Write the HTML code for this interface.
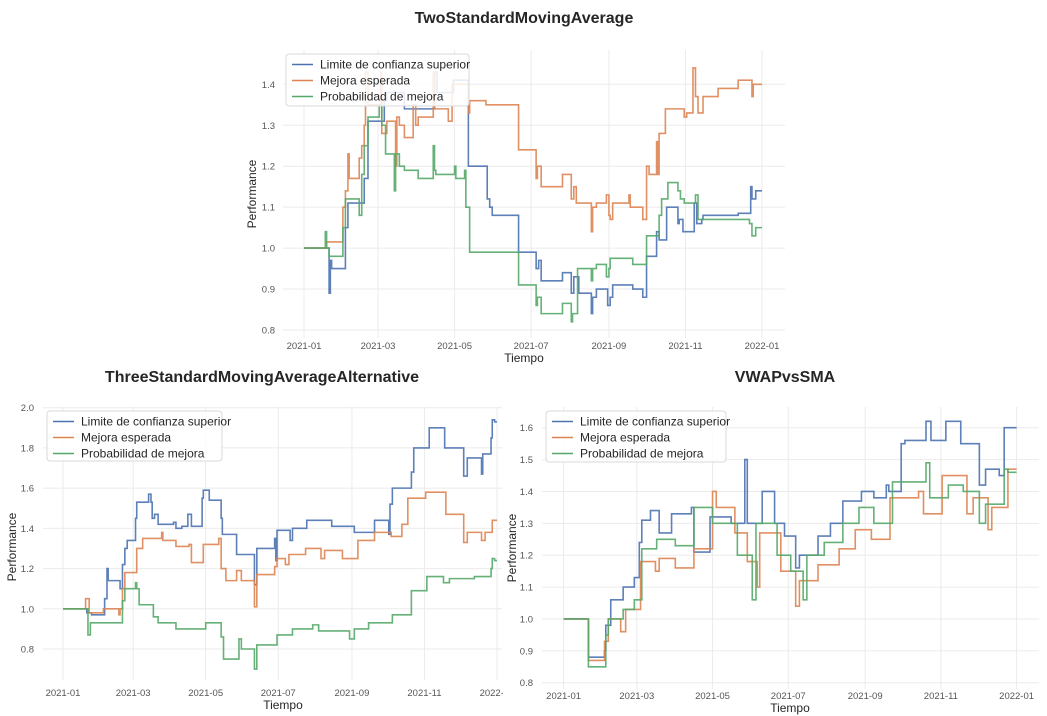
<!DOCTYPE html>
<html><head><meta charset="utf-8">
<style>
html,body{margin:0;padding:0;background:#fff;}
svg{display:block;font-family:"Liberation Sans",Arial,sans-serif;}
</style></head>
<body>
<svg id="chart" width="1047" height="716" viewBox="0 0 1047 716"></svg>
<script>
// ---------- data (day of year 2021, value) ----------
const seriesNames = ["Limite de confianza superior","Mejora esperada","Probabilidad de mejora"];
const xTickLabels = ["2021-01","2021-03","2021-05","2021-07","2021-09","2021-11","2022-01"];
const xTickDays = [0,59,120,181,243,304,365];

const topYTicks = [0.8,0.9,1.0,1.1,1.2,1.3,1.4];
const topBlueDays = [0,20,21,22,31,33,35,37,46,48,51,64,66,80,95,104,106,119,131,146,148,150,171,185,187,189,206,213,215,219,229,230,233,242,244,246,249,262,270,273,281,283,289,298,299,302,311,313,317,318,346,356,357,360,365];
const topBlueVals = [1.0,0.89,0.97,0.95,0.95,1.05,1.11,1.11,1.11,1.17,1.31,1.36,1.38,1.34,1.34,1.43,1.38,1.41,1.2,1.12,1.1,1.08,0.99,0.95,0.97,0.92,0.94,0.89,0.93,0.89,0.84,0.88,0.9,0.86,0.88,0.91,0.91,0.9,0.88,0.98,1.04,1.02,1.1,1.06,1.07,1.04,1.11,1.06,1.07,1.08,1.085,1.15,1.12,1.14,1.14];
const topOrangeDays = [0,18,31,33,35,36,38,44,46,48,49,51,61,62,64,66,73,74,76,80,87,89,91,94,103,104,105,115,118,120,131,132,145,147,171,185,186,189,206,213,215,217,221,229,230,233,241,243,244,246,249,259,260,262,270,273,275,281,282,283,288,303,305,306,310,312,314,318,330,331,346,347,357,358,360,365];
const topOrangeVals = [1.0,1.015,1.1,1.14,1.23,1.17,1.17,1.22,1.25,1.3,1.43,1.35,1.43,1.28,1.28,1.31,1.2,1.32,1.3,1.27,1.35,1.3,1.32,1.32,1.43,1.34,1.34,1.31,1.4,1.4,1.33,1.36,1.35,1.35,1.24,1.17,1.2,1.15,1.18,1.12,1.15,1.11,1.11,1.04,1.1,1.11,1.13,1.08,1.07,1.11,1.11,1.13,1.1,1.1,1.07,1.2,1.18,1.26,1.18,1.28,1.34,1.32,1.33,1.33,1.44,1.37,1.33,1.37,1.39,1.39,1.41,1.41,1.37,1.4,1.4,1.4];
const topGreenDays = [0,17,18,20,31,33,38,44,46,48,51,60,62,65,72,73,76,80,91,94,103,104,105,120,121,122,128,129,131,132,171,185,186,189,206,213,214,218,229,230,233,241,243,244,249,262,273,275,283,285,290,298,300,303,312,314,317,355,357,360,365];
const topGreenVals = [1.0,1.04,1.0,0.98,1.05,1.12,1.12,1.08,1.18,1.25,1.32,1.35,1.3,1.23,1.14,1.23,1.2,1.19,1.17,1.17,1.25,1.19,1.18,1.2,1.17,1.17,1.19,1.1,1.1,0.99,0.91,0.86,0.88,0.84,0.865,0.82,0.84,0.95,0.92,0.95,0.96,0.93,0.95,0.975,0.975,0.96,1.03,1.03,1.08,1.12,1.16,1.14,1.12,1.11,1.13,1.07,1.07,1.06,1.03,1.05,1.05];

const blYTicks = [0.8,1.0,1.2,1.4,1.6,1.8,2.0];
const blBlueDays = [0,17,20,24,35,37,38,47,48,50,52,54,61,62,72,74,75,77,80,93,95,100,105,108,117,118,123,133,134,146,161,163,178,179,180,191,193,205,226,245,262,274,275,277,293,295,308,321,337,340,352,353,360,361,363,365];
const blBlueVals = [1.0,1.0,0.98,0.97,1.05,1.2,1.14,1.14,1.1,1.22,1.3,1.34,1.45,1.53,1.57,1.53,1.45,1.47,1.42,1.43,1.4,1.41,1.47,1.41,1.55,1.59,1.54,1.45,1.37,1.27,1.12,1.3,1.35,1.24,1.39,1.34,1.4,1.44,1.41,1.38,1.44,1.37,1.52,1.6,1.68,1.8,1.9,1.8,1.66,1.75,1.67,1.77,1.85,1.94,1.93,1.93];
const blOrangeDays = [0,17,19,22,34,47,48,50,52,62,67,83,84,95,106,108,118,131,133,137,146,150,161,163,178,180,187,190,204,217,220,235,248,262,276,285,290,305,322,337,340,352,355,361,365];
const blOrangeVals = [1.0,1.0,1.05,0.98,1.0,0.97,1.0,1.1,1.18,1.3,1.35,1.38,1.34,1.31,1.32,1.23,1.32,1.35,1.2,1.14,1.19,1.14,1.01,1.17,1.21,1.25,1.22,1.27,1.3,1.25,1.29,1.25,1.34,1.38,1.36,1.42,1.55,1.58,1.47,1.33,1.38,1.34,1.38,1.44,1.44];
const blGreenDays = [0,17,21,23,48,50,52,61,62,64,76,80,95,120,133,135,148,150,161,163,180,193,210,215,241,245,257,277,293,306,320,325,346,360,361,363,365];
const blGreenVals = [1.0,1.0,0.87,0.93,0.93,1.04,1.1,1.13,1.1,1.02,0.96,0.93,0.9,0.93,0.86,0.75,0.85,0.8,0.7,0.82,0.87,0.9,0.92,0.89,0.85,0.9,0.93,0.97,1.09,1.16,1.13,1.15,1.16,1.2,1.25,1.24,1.24];

const brYTicks = [0.8,0.9,1.0,1.1,1.2,1.3,1.4,1.5,1.6];
const brBlueDays = [0,17,20,33,34,38,48,57,61,63,70,77,87,103,105,118,135,146,148,160,170,178,187,190,205,215,225,240,250,260,262,272,275,292,296,308,320,335,340,351,355,365];
const brBlueVals = [1.0,1.0,0.88,0.9,0.98,1.06,1.1,1.13,1.24,1.31,1.34,1.27,1.33,1.35,1.21,1.32,1.3,1.5,1.3,1.4,1.3,1.26,1.16,1.2,1.26,1.3,1.37,1.4,1.38,1.42,1.4,1.55,1.56,1.62,1.56,1.62,1.55,1.42,1.47,1.45,1.6,1.6];
const brOrangeDays = [0,17,20,33,36,46,50,62,74,77,90,105,120,123,138,148,156,158,175,187,190,205,222,235,248,263,286,290,305,325,330,342,345,358,365];
const brOrangeVals = [1.0,1.0,0.87,0.93,1.0,0.96,1.03,1.18,1.15,1.19,1.16,1.22,1.4,1.35,1.27,1.18,1.1,1.27,1.15,1.04,1.12,1.17,1.22,1.28,1.25,1.38,1.4,1.33,1.45,1.33,1.38,1.28,1.35,1.47,1.47];
const brGreenDays = [0,17,20,34,36,48,57,63,75,90,105,120,140,152,155,172,183,193,196,210,225,238,250,265,292,295,310,322,335,340,355,358,365];
const brGreenVals = [1.0,1.0,0.85,0.95,1.0,1.03,1.06,1.22,1.25,1.23,1.35,1.3,1.2,1.06,1.3,1.2,1.15,1.06,1.2,1.24,1.3,1.35,1.3,1.43,1.49,1.38,1.42,1.4,1.3,1.36,1.47,1.46,1.46];

// ---------- rendering ----------
const NS = "http://www.w3.org/2000/svg";
const svg = document.getElementById("chart");
const colors = ["#4c72b0","#dd8452","#55a868"];
function mk(tag, attrs, parent){
  const e = document.createElementNS(NS, tag);
  for (const k in attrs) e.setAttribute(k, attrs[k]);
  (parent||svg).appendChild(e);
  return e;
}
function panel(cfg){
  const g = mk("g", {});
  
  
  const xs = d => cfg.d0 + (d/365)*(cfg.d1 - cfg.d0);
  const ys = v => cfg.p0 + (v - cfg.v0)/(cfg.v1 - cfg.v0)*(cfg.p1 - cfg.p0);
  // grid
  cfg.yTicks.forEach(v => {
    const l = mk("line", {x1:cfg.L, x2:cfg.R, y1:ys(v), y2:ys(v), stroke:"#ebebeb", "stroke-width":1}, g);
    
    
    const t = mk("text", {x:cfg.ytx, y:ys(v)+3.5, "text-anchor":"end", "font-size":9.5, fill:"#555"}, g);
    
    
    t.textContent = v.toFixed(1);
  });
  xTickDays.forEach((d,i) => {
    const l = mk("line", {x1:xs(d), x2:xs(d), y1:cfg.T, y2:cfg.B, stroke:"#ebebeb", "stroke-width":1}, g);
    
    
    const t = mk("text", {x:xs(d), y:cfg.xty, "text-anchor":"middle", "font-size":9.5, fill:"#555"}, g);
    
    
    t.textContent = xTickLabels[i];
  });
  // series
  cfg.series.forEach((s,i) => {
    let dstr = "";
    s[0].forEach((d,j) => {
      const x = xs(d), y = ys(s[1][j]);
      if (j === 0) dstr += "M"+x+","+y;
      else dstr += "H"+x+"V"+y;
    });
    const p = mk("path", {d:dstr, fill:"none", stroke:colors[i], "stroke-width":1.6, "stroke-opacity":0.9, "stroke-linejoin":"miter"}, g);
    
    
  });
  // labels
  const tt = mk("text", {x:cfg.tx, y:cfg.ty, "text-anchor":"middle", "font-size":16, "font-weight":"bold", fill:"#262626"}, g);
  
  
  tt.textContent = cfg.title;
  const xl = mk("text", {x:cfg.xlx, y:cfg.xly, "text-anchor":"middle", "font-size":12, fill:"#262626"}, g);
  
  
  xl.textContent = "Tiempo";
  const yl = mk("text", {x:0, y:0, transform:"translate("+cfg.ylx+","+cfg.yly+") rotate(-90)", "text-anchor":"middle", "font-size":12, fill:"#262626"}, g);
  
  
  yl.textContent = "Performance";
  // legend
  const lg = mk("g", {}, g);
  
  
  mk("rect", {x:cfg.lx, y:cfg.ly, width:cfg.lw, height:cfg.lh, rx:3, fill:"#fff", "fill-opacity":0.85, stroke:"#d9d9d9"}, lg);
  seriesNames.forEach((n,i) => {
    const yy = cfg.ly + 10.5 + i*16;
    const ln = mk("line", {x1:cfg.lx+6, x2:cfg.lx+27, y1:yy, y2:yy, stroke:colors[i], "stroke-width":1.6}, lg);
    
    
    const t = mk("text", {x:cfg.lx+34, y:yy+4, "font-size":12, fill:"#262626"}, lg);
    
    
    t.textContent = n;
  });
}

panel({name:"two-standard-moving-average-chart", title:"TwoStandardMovingAverage", tx:524, ty:23,
  d0:304, d1:762, v0:0.8, p0:330, v1:1.4, p1:84.3, L:283, R:785, T:50, B:338,
  yTicks:topYTicks, ytx:275, xty:349, xlx:524, xly:362, ylx:256, yly:194,
  lx:286, ly:54, lw:183, lh:52,
  series:[[topBlueDays,topBlueVals],[topOrangeDays,topOrangeVals],[topGreenDays,topGreenVals]]});

panel({name:"three-standard-moving-average-alternative-chart", title:"ThreeStandardMovingAverageAlternative", tx:262, ty:382,
  d0:63, d1:497, v0:0.8, p0:649, v1:2.0, p1:407.7, L:43, R:502, T:407, B:680,
  yTicks:blYTicks, ytx:34, xty:696, xlx:283, xly:709, ylx:16, yly:547,
  lx:47, ly:411, lw:175, lh:50,
  series:[[blBlueDays,blBlueVals],[blOrangeDays,blOrangeVals],[blGreenDays,blGreenVals]]});

const cover = mk("rect", {x:503, y:685, width:12, height:20, fill:"#fff"});



panel({name:"vwap-vs-sma-chart", title:"VWAPvsSMA", tx:785, ty:382,
  d0:563.6, d1:1016.6, v0:0.8, p0:682.7, v1:1.6, p1:427.7, L:542, R:1039, T:407, B:689,
  yTicks:brYTicks, ytx:533, xty:699, xlx:790, xly:712, ylx:516, yly:548,
  lx:546, ly:411, lw:180, lh:51,
  series:[[brBlueDays,brBlueVals],[brOrangeDays,brOrangeVals],[brGreenDays,brGreenVals]]});
</script>
</body></html>
